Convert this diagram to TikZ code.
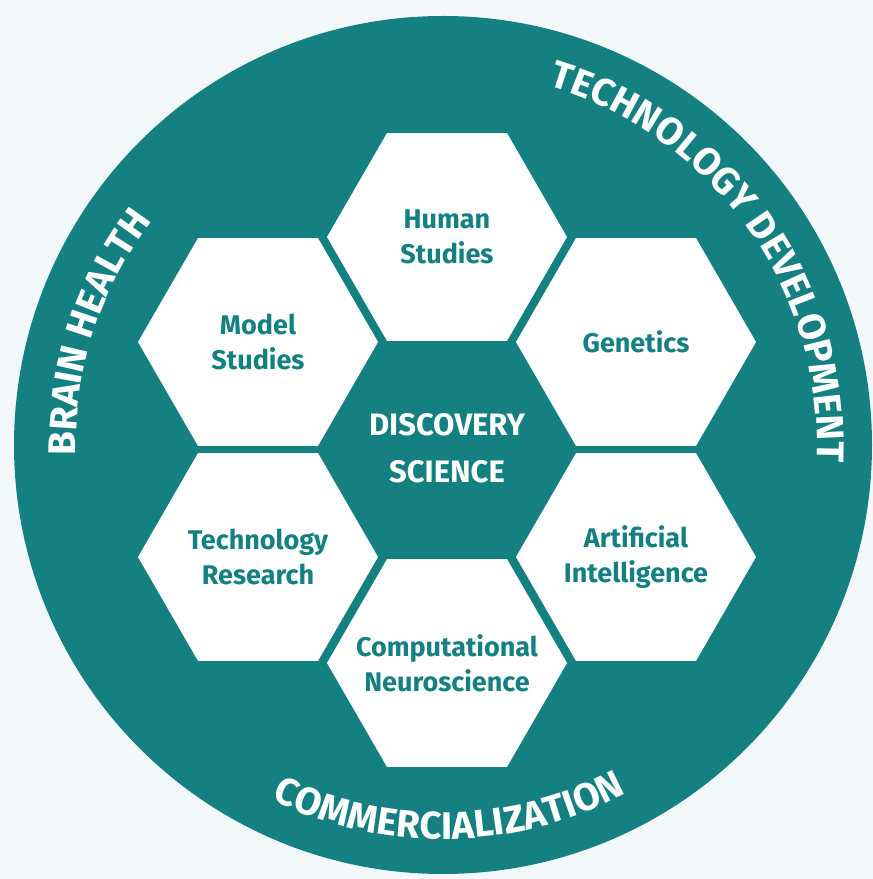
\documentclass[tikz,border=0pt]{standalone}
\usepackage{fontspec}
\setmainfont{Fira Sans}
\usetikzlibrary{shapes.geometric,decorations.text}
\definecolor{teal0}{RGB}{20,128,129}
\definecolor{bg0}{RGB}{242,248,249}
\newcommand\ringfont{\fontsize{38.5}{40}\selectfont\bfseries}
\begin{document}
\begin{tikzpicture}[x=1pt,y=1pt,
  hexbox/.style={regular polygon, regular polygon sides=6, minimum size=240pt, inner sep=0pt, fill=white},
  hexlabel/.style={inner sep=0pt, text=teal0, font=\fontsize{27}{35}\selectfont\bfseries, align=center},
  corelabel/.style={inner sep=0pt, text=white, font=\fontsize{31}{47}\selectfont\bfseries, align=center},
  ringtext/.style={decorate, decoration={text along path, text align=center, text color=white, text={#1}}}
]
\useasboundingbox (0,0) rectangle (873,879);
\fill[bg0] (0,0) rectangle (873,879);
\coordinate (c) at (443,434);
\begin{scope}
\clip (0,0) rectangle (873,879);
\fill[teal0] (c) circle[radius=429pt];
\end{scope}
\node[hexbox] (hs) at (447,642) {};
\node[hexbox] (ms) at (258,537) {};
\node[hexbox] (ge) at (636,537) {};
\node[hexbox] (tr) at (258,322) {};
\node[hexbox] (ai) at (636,322) {};
\node[hexbox] (cn) at (447,216) {};
\node[hexlabel] (hs-t) at (hs) {Human\\Studies};
\node[hexlabel] (ms-t) at (ms) {Model\\Studies};
\node[hexlabel] (ge-t) at (ge) {Genetics};
\node[hexlabel] (tr-t) at (tr) {Technology\\Research};
\node[hexlabel] (ai-t) at (ai) {Artificial\\Intelligence};
\node[hexlabel] (cn-t) at (cn) {Computational\\Neuroscience};
\node[corelabel] (ds) at (447,431) {DISCOVERY\\SCIENCE};
\path[ringtext={|\ringfont|BRAIN HEALTH}] ([shift={(215:367pt)}]c) arc[start angle=215, end angle=109, radius=367pt];
\path[ringtext={|\ringfont|TECHNOLOGY DEVELOPMENT}] ([shift={(100:374pt)}]c) arc[start angle=100, end angle=-29, radius=374pt];
\path[ringtext={|\ringfont|COMMERCIALIZATION}] ([shift={(210:394pt)}]c) arc[start angle=210, end angle=332, radius=394pt];
\end{tikzpicture}
\end{document}
